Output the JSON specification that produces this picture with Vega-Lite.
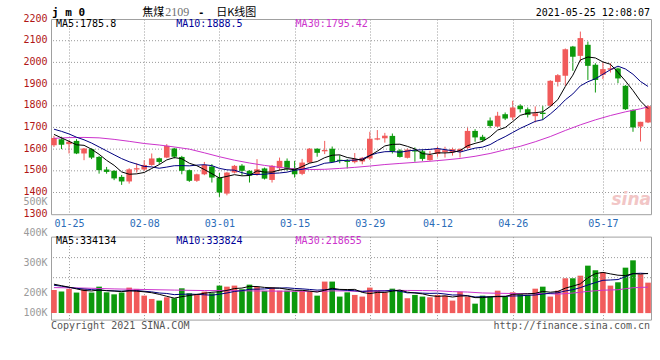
{
"$schema": "https://vega.github.io/schema/vega-lite/v6.json",
"background": "white",
"padding": {"left": 22, "top": 5, "right": 8, "bottom": 4},
"config": {
  "font": "DejaVu Sans Mono",
  "view": {"stroke": "#a0a0a0", "strokeWidth": 1},
  "axis": {"domain": false, "ticks": false, "labelFont": "DejaVu Sans Mono", "labelFontSize": 10, "gridDash": [1, 2], "gridWidth": 1, "labelOverlap": false, "labelFlush": false, "labelBound": false},
  "text": {"font": "DejaVu Sans Mono", "fontSize": 10}
},
"datasets": {
"k": [
{"d":"01-21","o":1618,"h":1661,"l":1610,"c":1651,"v":196,"m5":1668,"m10":1692,"vm5":245,"vm10":236},
{"d":"01-22","o":1646,"h":1657,"l":1600,"c":1620,"v":182,"m5":1652,"m10":1682,"vm5":232,"vm10":228},
{"d":"01-25","o":1623,"h":1641,"l":1580,"c":1634,"v":205,"m5":1636,"m10":1670,"vm5":220,"vm10":218},
{"d":"01-26","o":1638,"h":1646,"l":1577,"c":1580,"v":174,"m5":1620,"m10":1655,"vm5":205,"vm10":210},
{"d":"01-27","o":1580,"h":1605,"l":1549,"c":1603,"v":202,"m5":1617.6,"m10":1643,"vm5":191.8,"vm10":204},
{"d":"01-28","o":1600,"h":1604,"l":1554,"c":1561,"v":174,"m5":1599.6,"m10":1628,"vm5":187.4,"vm10":199},
{"d":"01-29","o":1564,"h":1569,"l":1487,"c":1503,"v":224,"m5":1576.2,"m10":1610,"vm5":195.8,"vm10":195},
{"d":"02-01","o":1506,"h":1518,"l":1487,"c":1495,"v":176,"m5":1548.4,"m10":1592,"vm5":190,"vm10":191},
{"d":"02-02","o":1500,"h":1503,"l":1457,"c":1465,"v":159,"m5":1525.4,"m10":1574,"vm5":187,"vm10":188},
{"d":"02-03","o":1472,"h":1481,"l":1435,"c":1451,"v":174,"m5":1495,"m10":1556.3,"vm5":181.4,"vm10":186.6},
{"d":"02-04","o":1451,"h":1512,"l":1441,"c":1507,"v":216,"m5":1484.2,"m10":1541.9,"vm5":189.8,"vm10":188.6},
{"d":"02-05","o":1506,"h":1535,"l":1492,"c":1512,"v":205,"m5":1486,"m10":1531.1,"vm5":186,"vm10":190.9},
{"d":"02-08","o":1506,"h":1549,"l":1500,"c":1527,"v":148,"m5":1492.4,"m10":1520.4,"vm5":180.4,"vm10":185.2},
{"d":"02-09","o":1527,"h":1580,"l":1523,"c":1557,"v":120,"m5":1510.8,"m10":1518.1,"vm5":172.6,"vm10":179.8},
{"d":"02-10","o":1558,"h":1561,"l":1531,"c":1541,"v":106,"m5":1528.8,"m10":1511.9,"vm5":159,"vm10":170.2},
{"d":"02-18","o":1561,"h":1623,"l":1558,"c":1615,"v":134,"m5":1550.4,"m10":1517.3,"vm5":142.6,"vm10":166.2},
{"d":"02-19","o":1603,"h":1606,"l":1557,"c":1565,"v":126,"m5":1561,"m10":1523.5,"vm5":126.8,"vm10":156.4},
{"d":"02-22","o":1564,"h":1569,"l":1484,"c":1500,"v":210,"m5":1555.6,"m10":1524,"vm5":139.2,"vm10":159.8},
{"d":"02-23","o":1503,"h":1506,"l":1449,"c":1454,"v":168,"m5":1535,"m10":1522.9,"vm5":148.8,"vm10":160.7},
{"d":"02-24","o":1454,"h":1487,"l":1449,"c":1484,"v":154,"m5":1523.6,"m10":1526.2,"vm5":158.4,"vm10":158.7},
{"d":"02-25","o":1484,"h":1541,"l":1480,"c":1527,"v":182,"m5":1506,"m10":1528.2,"vm5":168,"vm10":155.3},
{"d":"02-26","o":1520,"h":1531,"l":1446,"c":1469,"v":168,"m5":1486.8,"m10":1523.9,"vm5":176.4,"vm10":151.6},
{"d":"03-01","o":1469,"h":1490,"l":1380,"c":1400,"v":233,"m5":1466.8,"m10":1511.2,"vm5":181,"vm10":160.1},
{"d":"03-02","o":1395,"h":1495,"l":1387,"c":1492,"v":224,"m5":1474.4,"m10":1504.7,"vm5":192.2,"vm10":170.5},
{"d":"03-03","o":1492,"h":1527,"l":1488,"c":1523,"v":233,"m5":1482.2,"m10":1502.9,"vm5":208,"vm10":183.2},
{"d":"03-04","o":1524,"h":1531,"l":1480,"c":1500,"v":202,"m5":1476.8,"m10":1491.4,"vm5":212,"vm10":190},
{"d":"03-05","o":1500,"h":1503,"l":1446,"c":1477,"v":241,"m5":1478.4,"m10":1482.6,"vm5":226.6,"vm10":201.5},
{"d":"03-08","o":1484,"h":1554,"l":1477,"c":1507,"v":224,"m5":1499.8,"m10":1483.3,"vm5":224.8,"vm10":202.9},
{"d":"03-09","o":1511,"h":1515,"l":1460,"c":1464,"v":188,"m5":1494.2,"m10":1484.3,"vm5":217.6,"vm10":204.9},
{"d":"03-10","o":1458,"h":1527,"l":1446,"c":1523,"v":216,"m5":1494.2,"m10":1488.2,"vm5":214.2,"vm10":211.1},
{"d":"03-11","o":1512,"h":1561,"l":1500,"c":1546,"v":190,"m5":1503.4,"m10":1490.1,"vm5":211.8,"vm10":211.9},
{"d":"03-12","o":1546,"h":1557,"l":1500,"c":1507,"v":190,"m5":1509.4,"m10":1493.9,"vm5":201.6,"vm10":214.1},
{"d":"03-15","o":1513,"h":1546,"l":1469,"c":1484,"v":182,"m5":1504.8,"m10":1502.3,"vm5":193.2,"vm10":209},
{"d":"03-16","o":1486,"h":1555,"l":1480,"c":1538,"v":188,"m5":1519.6,"m10":1506.9,"vm5":193.2,"vm10":205.4},
{"d":"03-17","o":1538,"h":1605,"l":1535,"c":1602,"v":182,"m5":1535.4,"m10":1514.8,"vm5":186.4,"vm10":200.3},
{"d":"03-18","o":1602,"h":1604,"l":1565,"c":1583,"v":148,"m5":1542.8,"m10":1523.1,"vm5":178,"vm10":194.9},
{"d":"03-19","o":1590,"h":1638,"l":1577,"c":1596,"v":267,"m5":1560.6,"m10":1535,"vm5":193.4,"vm10":197.5},
{"d":"03-22","o":1602,"h":1612,"l":1538,"c":1541,"v":267,"m5":1572,"m10":1538.4,"vm5":210.4,"vm10":201.8},
{"d":"03-23","o":1551,"h":1572,"l":1535,"c":1546,"v":140,"m5":1573.6,"m10":1546.6,"vm5":200.8,"vm10":197},
{"d":"03-24","o":1546,"h":1554,"l":1511,"c":1541,"v":176,"m5":1561.4,"m10":1548.4,"vm5":199.6,"vm10":193},
{"d":"03-25","o":1540,"h":1582,"l":1534,"c":1554,"v":154,"m5":1555.6,"m10":1549.2,"vm5":200.8,"vm10":189.4},
{"d":"03-26","o":1543,"h":1564,"l":1530,"c":1560,"v":140,"m5":1548.4,"m10":1554.5,"vm5":175.4,"vm10":184.4},
{"d":"03-29","o":1557,"h":1680,"l":1550,"c":1648,"v":216,"m5":1569.8,"m10":1570.9,"vm5":165.2,"vm10":187.8},
{"d":"03-30","o":1644,"h":1688,"l":1641,"c":1650,"v":190,"m5":1590.6,"m10":1582.1,"vm5":175.2,"vm10":188},
{"d":"03-31","o":1650,"h":1675,"l":1630,"c":1662,"v":176,"m5":1614.8,"m10":1588.1,"vm5":175.2,"vm10":187.4},
{"d":"04-01","o":1661,"h":1672,"l":1580,"c":1590,"v":207,"m5":1622,"m10":1588.8,"vm5":185.8,"vm10":193.3},
{"d":"04-02","o":1594,"h":1600,"l":1561,"c":1564,"v":188,"m5":1622.8,"m10":1585.6,"vm5":195.4,"vm10":185.4},
{"d":"04-06","o":1560,"h":1604,"l":1557,"c":1598,"v":126,"m5":1612.8,"m10":1591.3,"vm5":177.4,"vm10":171.3},
{"d":"04-07","o":1595,"h":1608,"l":1542,"c":1589,"v":154,"m5":1600.6,"m10":1595.6,"vm5":170.2,"vm10":172.7},
{"d":"04-08","o":1590,"h":1600,"l":1546,"c":1555,"v":140,"m5":1579.2,"m10":1597,"vm5":163,"vm10":169.1},
{"d":"04-09","o":1549,"h":1592,"l":1546,"c":1573,"v":134,"m5":1575.8,"m10":1598.9,"vm5":148.4,"vm10":167.1},
{"d":"04-12","o":1578,"h":1611,"l":1565,"c":1600,"v":154,"m5":1583,"m10":1602.9,"vm5":141.6,"vm10":168.5},
{"d":"04-13","o":1586,"h":1611,"l":1561,"c":1595,"v":148,"m5":1582.4,"m10":1597.6,"vm5":146,"vm10":161.7},
{"d":"04-14","o":1586,"h":1607,"l":1570,"c":1600,"v":106,"m5":1584.6,"m10":1592.6,"vm5":136.4,"vm10":153.3},
{"d":"04-15","o":1590,"h":1604,"l":1561,"c":1600,"v":182,"m5":1593.6,"m10":1586.4,"vm5":144.8,"vm10":153.9},
{"d":"04-16","o":1605,"h":1703,"l":1600,"c":1684,"v":140,"m5":1615.8,"m10":1595.8,"vm5":146,"vm10":147.2},
{"d":"04-19","o":1684,"h":1692,"l":1634,"c":1654,"v":80,"m5":1626.6,"m10":1604.8,"vm5":131.2,"vm10":136.4},
{"d":"04-20","o":1657,"h":1666,"l":1634,"c":1641,"v":148,"m5":1635.8,"m10":1609.1,"vm5":131.2,"vm10":138.6},
{"d":"04-21","o":1732,"h":1746,"l":1697,"c":1707,"v":140,"m5":1657.2,"m10":1620.9,"vm5":138,"vm10":137.2},
{"d":"04-22","o":1704,"h":1772,"l":1700,"c":1754,"v":190,"m5":1688,"m10":1640.8,"vm5":139.6,"vm10":142.2},
{"d":"04-23","o":1761,"h":1769,"l":1734,"c":1741,"v":140,"m5":1699.4,"m10":1657.6,"vm5":139.6,"vm10":142.8},
{"d":"04-26","o":1746,"h":1823,"l":1734,"c":1792,"v":176,"m5":1727,"m10":1676.8,"vm5":158.8,"vm10":145},
{"d":"04-27","o":1800,"h":1807,"l":1769,"c":1784,"v":159,"m5":1755.6,"m10":1695.7,"vm5":161,"vm10":146.1},
{"d":"04-28","o":1784,"h":1792,"l":1746,"c":1758,"v":154,"m5":1765.8,"m10":1711.5,"vm5":163.8,"vm10":150.9},
{"d":"04-29","o":1752,"h":1797,"l":1723,"c":1765,"v":207,"m5":1768,"m10":1728,"vm5":167.2,"vm10":153.4},
{"d":"04-30","o":1768,"h":1800,"l":1735,"c":1762,"v":224,"m5":1772.2,"m10":1735.8,"vm5":184,"vm10":161.8},
{"d":"05-06","o":1800,"h":1918,"l":1796,"c":1915,"v":140,"m5":1796.8,"m10":1761.9,"vm5":176.8,"vm10":167.8},
{"d":"05-07","o":1910,"h":1946,"l":1889,"c":1941,"v":190,"m5":1828.2,"m10":1791.9,"vm5":183,"vm10":172},
{"d":"05-10","o":1938,"h":2064,"l":1892,"c":2061,"v":295,"m5":1888.8,"m10":1827.3,"vm5":211.2,"vm10":187.5},
{"d":"05-11","o":2073,"h":2076,"l":1961,"c":2026,"v":295,"m5":1941,"m10":1854.5,"vm5":228.8,"vm10":198},
{"d":"05-12","o":2030,"h":2142,"l":2003,"c":2112,"v":317,"m5":2011,"m10":1891.6,"vm5":247.4,"vm10":215.7},
{"d":"05-13","o":2081,"h":2096,"l":1919,"c":1984,"v":402,"m5":2024.8,"m10":1910.8,"vm5":299.8,"vm10":238.3},
{"d":"05-14","o":1989,"h":1996,"l":1861,"c":1919,"v":363,"m5":2020.4,"m10":1924.3,"vm5":334.4,"vm10":258.7},
{"d":"05-17","o":1943,"h":2002,"l":1923,"c":1969,"v":346,"m5":2002,"m10":1945.4,"vm5":344.6,"vm10":277.9},
{"d":"05-18","o":1966,"h":1996,"l":1953,"c":1973,"v":233,"m5":1991.2,"m10":1966.1,"vm5":332.2,"vm10":280.5},
{"d":"05-19","o":1972,"h":1976,"l":1904,"c":1926,"v":261,"m5":1954,"m10":1982.5,"vm5":321,"vm10":284.2},
{"d":"05-20","o":1892,"h":1895,"l":1781,"c":1784,"v":385,"m5":1914,"m10":1969.4,"vm5":317.6,"vm10":308.7},
{"d":"05-21","o":1781,"h":1784,"l":1680,"c":1700,"v":447,"m5":1870.2,"m10":1945.3,"vm5":334.4,"vm10":334.4},
{"d":"05-24","o":1704,"h":1726,"l":1635,"c":1726,"v":329,"m5":1821.6,"m10":1911.8,"vm5":331,"vm10":337.8},
{"d":"05-25","o":1723,"h":1803,"l":1720,"c":1798,"v":258,"m5":1786.8,"m10":1889,"vm5":336,"vm10":334.1}
],
"p30": [
{"d":"01-21","p":1650},{"d":"01-25","p":1653},{"d":"01-27","p":1654},{"d":"01-29","p":1652},{"d":"02-02","p":1645},{"d":"02-04","p":1636},{"d":"02-08","p":1626},{"d":"02-10","p":1619},{"d":"02-19","p":1610},{"d":"02-23","p":1600},{"d":"02-25","p":1583},{"d":"03-01","p":1565},{"d":"03-03","p":1549},{"d":"03-05","p":1536},{"d":"03-09","p":1525},{"d":"03-11","p":1516},{"d":"03-15","p":1509},{"d":"03-17","p":1506},{"d":"03-19","p":1507},{"d":"03-23","p":1511},{"d":"03-25","p":1516},{"d":"03-29","p":1522},{"d":"03-31","p":1529},{"d":"04-02","p":1534},{"d":"04-07","p":1539},{"d":"04-09","p":1544},{"d":"04-13","p":1550},{"d":"04-15","p":1557},{"d":"04-19","p":1567},{"d":"04-21","p":1580},{"d":"04-23","p":1597},{"d":"04-27","p":1613},{"d":"04-29","p":1634},{"d":"05-06","p":1658},{"d":"05-10","p":1686},{"d":"05-12","p":1712},{"d":"05-14","p":1735},{"d":"05-18","p":1755},{"d":"05-20","p":1772},{"d":"05-24","p":1786},{"d":"05-25","p":1795}
],
"v30": [
{"d":"01-21","p":216},{"d":"01-27","p":212},{"d":"02-02","p":205},{"d":"02-08","p":200},{"d":"02-19","p":195},{"d":"02-25","p":191},{"d":"03-03","p":190},{"d":"03-09","p":187},{"d":"03-12","p":185.5},{"d":"03-16","p":185.2},{"d":"03-18","p":183.7},{"d":"03-22","p":188.2},{"d":"03-24","p":187.6},{"d":"03-26","p":183.4},{"d":"03-30","p":188},{"d":"04-01","p":192.7},{"d":"04-06","p":192},{"d":"04-08","p":191.1},{"d":"04-12","p":189},{"d":"04-14","p":182.2},{"d":"04-16","p":178.5},{"d":"04-20","p":170.6},{"d":"04-22","p":168.1},{"d":"04-26","p":166},{"d":"04-28","p":164.1},{"d":"04-30","p":167.4},{"d":"05-07","p":160.6},{"d":"05-11","p":169.8},{"d":"05-13","p":183.9},{"d":"05-17","p":194},{"d":"05-19","p":197.7},{"d":"05-21","p":215},{"d":"05-25","p":220}
],
"gp": [{"g":1400},{"g":1500},{"g":1600},{"g":1700},{"g":1800},{"g":1900},{"g":2000},{"g":2100}],
"gv": [{"g":300},{"g":470}]
},
"spacing": 21.6,
"bounds": "flush",
"vconcat": [
{
 "width": 600, "height": 195.2,
 "layer": [
  {"data": {"name": "k"}, "mark": {"type": "rule", "strokeWidth": 1},
   "encoding": {
    "x": {"field": "d", "type": "ordinal", "scale": {"type": "point", "padding": 0.394},
          "axis": {"values": ["01-25","02-08","03-01","03-15","03-29","04-12","04-26","05-17"], "grid": true, "gridColor": "#9a9a9a", "gridDash": [1, 2], "labelColor": "#2a6cb8", "labelPadding": 4, "labelAngle": 0, "labelOverlap": false, "labelBound": false, "labelFlush": false, "title": null}},
    "y": {"field": "l", "type": "quantitative", "scale": {"domain": [1300, 2200], "nice": false, "zero": false},
          "axis": {"values": [1300,1355,1400,1500,1600,1700,1800,1900,2000,2100,2200], "tickCount": 100, "format": "d", "grid": false,
                   "labelExpr": "datum.value == 1355 ? '500K' : datum.label",
                   "labelColor": {"condition": {"test": "datum.value == 1355", "value": "#9a9a9a"}, "value": "#b01515"},
                   "labelOverlap": false, "labelBound": false, "labelFlush": false,
                   "labelPadding": 4, "labelOffset": -1, "title": null}},
    "y2": {"field": "h"},
    "color": {"condition": {"test": "datum.c >= datum.o", "value": "#f15b5b"}, "value": "#0c990c"}
   }},
  {"data": {"name": "gp"}, "mark": {"type": "rule", "color": "#9a9a9a", "strokeWidth": 1, "strokeDash": [1, 2]},
   "encoding": {"y": {"field": "g", "type": "quantitative"}}},
  {"data": {"name": "k"}, "mark": {"type": "bar", "width": 5.6},
   "encoding": {
    "x": {"field": "d", "type": "ordinal"},
    "y": {"field": "o", "type": "quantitative"},
    "y2": {"field": "c"},
    "color": {"condition": {"test": "datum.c >= datum.o", "value": "#f15b5b"}, "value": "#0c990c"}
   }},
  {"data": {"name": "p30"}, "mark": {"type": "line", "color": "#cc33cc", "strokeWidth": 1},
   "encoding": {"x": {"field": "d", "type": "ordinal"}, "y": {"field": "p", "type": "quantitative"}}},
  {"data": {"name": "k"}, "mark": {"type": "line", "color": "#000080", "strokeWidth": 1},
   "encoding": {"x": {"field": "d", "type": "ordinal"}, "y": {"field": "m10", "type": "quantitative"}}},
  {"data": {"name": "k"}, "mark": {"type": "line", "color": "#000000", "strokeWidth": 1},
   "encoding": {"x": {"field": "d", "type": "ordinal"}, "y": {"field": "m5", "type": "quantitative"}}},
  {"data": {"values": [{"t": "MA5:1785.8"}]}, "mark": {"type": "text", "align": "left", "baseline": "middle", "dx": 2, "color": "#000000", "fontSize": 10},
   "encoding": {"x": {"datum": "01-21", "type": "ordinal"}, "y": {"datum": 2175, "type": "quantitative"}, "text": {"field": "t"}}},
  {"data": {"values": [{"t": "MA10:1888.5"}]}, "mark": {"type": "text", "align": "left", "baseline": "middle", "dx": 2, "color": "#000099", "fontSize": 10},
   "encoding": {"x": {"datum": "02-19", "type": "ordinal"}, "y": {"datum": 2175, "type": "quantitative"}, "text": {"field": "t"}}},
  {"data": {"values": [{"t": "MA30:1795.42"}]}, "mark": {"type": "text", "align": "left", "baseline": "middle", "dx": 1, "color": "#cc33cc", "fontSize": 10},
   "encoding": {"x": {"datum": "03-15", "type": "ordinal"}, "y": {"datum": 2175, "type": "quantitative"}, "text": {"field": "t"}}},
  {"data": {"values": [{"t": "j m 0"}]}, "mark": {"type": "text", "align": "left", "baseline": "alphabetic", "dx": -2, "color": "#000000", "fontSize": 11, "fontWeight": "bold"},
   "encoding": {"x": {"datum": "01-21", "type": "ordinal"}, "y": {"datum": 2215, "type": "quantitative"}, "text": {"field": "t"}}},
  {"data": {"values": [{"t": "焦煤"}]}, "mark": {"type": "text", "align": "left", "baseline": "alphabetic", "dx": -2, "color": "#000000", "fontSize": 11, "font": "Noto Sans CJK SC"},
   "encoding": {"x": {"datum": "02-08", "type": "ordinal"}, "y": {"datum": 2215, "type": "quantitative"}, "text": {"field": "t"}}},
  {"data": {"values": [{"t": "2109"}]}, "mark": {"type": "text", "align": "left", "baseline": "alphabetic", "dx": 21, "color": "#707070", "fontSize": 12, "font": "Liberation Serif"},
   "encoding": {"x": {"datum": "02-08", "type": "ordinal"}, "y": {"datum": 2215, "type": "quantitative"}, "text": {"field": "t"}}},
  {"data": {"values": [{"t": "-"}]}, "mark": {"type": "text", "align": "left", "baseline": "alphabetic", "dx": 54, "color": "#000000", "fontSize": 10, "fontWeight": "bold"},
   "encoding": {"x": {"datum": "02-08", "type": "ordinal"}, "y": {"datum": 2215, "type": "quantitative"}, "text": {"field": "t"}}},
  {"data": {"values": [{"t": "日K线图"}]}, "mark": {"type": "text", "align": "left", "baseline": "alphabetic", "dx": 72, "color": "#000000", "fontSize": 11, "font": "Noto Sans CJK SC"},
   "encoding": {"x": {"datum": "02-08", "type": "ordinal"}, "y": {"datum": 2215, "type": "quantitative"}, "text": {"field": "t"}}},
  {"data": {"values": [{"t": "2021-05-25 12:08:07"}]}, "mark": {"type": "text", "align": "right", "baseline": "alphabetic", "dx": 2, "color": "#000000", "fontSize": 10},
   "encoding": {"x": {"datum": "05-25", "type": "ordinal"}, "y": {"datum": 2215, "type": "quantitative"}, "text": {"field": "t"}}},
  {"data": {"values": [{"t": "sina"}]}, "mark": {"type": "text", "align": "right", "baseline": "alphabetic", "dx": 3, "color": "#f2c6c6", "fontSize": 17, "fontWeight": "bold", "fontStyle": "italic", "font": "DejaVu Sans"},
   "encoding": {"x": {"datum": "05-25", "type": "ordinal"}, "y": {"datum": 1343, "type": "quantitative"}, "text": {"field": "t"}}}
 ]
},
{
 "width": 600, "height": 83,
 "layer": [
  {"data": {"name": "k"}, "mark": {"type": "bar", "width": 5.6},
   "encoding": {
    "x": {"field": "d", "type": "ordinal", "scale": {"type": "point", "padding": 0.394},
          "axis": {"values": ["01-25","02-08","03-01","03-15","03-29","04-12","04-26","05-17"], "grid": true, "gridColor": "#9a9a9a", "gridDash": [1, 2], "labels": false, "title": null}},
    "y": {"field": "v", "type": "quantitative", "scale": {"domain": [-55, 648], "nice": false, "zero": false},
          "axis": {"values": [-30, 140, 394, 648], "tickCount": 100, "grid": false,
                   "labelExpr": "datum.value == 648 ? '400K' : datum.value == 394 ? '300K' : datum.value == 140 ? '200K' : datum.value == -30 ? '100K' : ''",
                   "labelColor": "#9a9a9a", "labelOffset": -4, "labelPadding": 4,
                   "labelOverlap": false, "labelBound": false, "labelFlush": false,
                   "title": null}},
    "y2": {"datum": 0},
    "color": {"condition": {"test": "datum.c >= datum.o", "value": "#f15b5b"}, "value": "#0c990c"}
   }},
  {"data": {"name": "gv"}, "mark": {"type": "rule", "color": "#9a9a9a", "strokeWidth": 1, "strokeDash": [1, 2]},
   "encoding": {"y": {"field": "g", "type": "quantitative"}}},
  {"data": {"name": "v30"}, "mark": {"type": "line", "color": "#cc33cc", "strokeWidth": 1},
   "encoding": {"x": {"field": "d", "type": "ordinal"}, "y": {"field": "p", "type": "quantitative"}}},
  {"data": {"name": "k"}, "mark": {"type": "line", "color": "#000080", "strokeWidth": 1},
   "encoding": {"x": {"field": "d", "type": "ordinal"}, "y": {"field": "vm10", "type": "quantitative"}}},
  {"data": {"name": "k"}, "mark": {"type": "line", "color": "#000000", "strokeWidth": 1},
   "encoding": {"x": {"field": "d", "type": "ordinal"}, "y": {"field": "vm5", "type": "quantitative"}}},
  {"data": {"values": [{"t": "MA5:334134"}]}, "mark": {"type": "text", "align": "left", "baseline": "middle", "dx": 2, "color": "#000000", "fontSize": 10},
   "encoding": {"x": {"datum": "01-21", "type": "ordinal"}, "y": {"datum": 614, "type": "quantitative"}, "text": {"field": "t"}}},
  {"data": {"values": [{"t": "MA10:333824"}]}, "mark": {"type": "text", "align": "left", "baseline": "middle", "dx": 2, "color": "#000099", "fontSize": 10},
   "encoding": {"x": {"datum": "02-19", "type": "ordinal"}, "y": {"datum": 614, "type": "quantitative"}, "text": {"field": "t"}}},
  {"data": {"values": [{"t": "MA30:218655"}]}, "mark": {"type": "text", "align": "left", "baseline": "middle", "dx": 1, "color": "#cc33cc", "fontSize": 10},
   "encoding": {"x": {"datum": "03-15", "type": "ordinal"}, "y": {"datum": 614, "type": "quantitative"}, "text": {"field": "t"}}},
  {"data": {"values": [{"t": "Copyright 2021 SINA.COM"}]}, "mark": {"type": "text", "align": "left", "baseline": "middle", "dx": -3, "color": "#555555", "fontSize": 10},
   "encoding": {"x": {"datum": "01-21", "type": "ordinal"}, "y": {"datum": -106, "type": "quantitative"}, "text": {"field": "t"}}},
  {"data": {"values": [{"t": "http://finance.sina.com.cn"}]}, "mark": {"type": "text", "align": "right", "baseline": "middle", "dx": 2, "color": "#555555", "fontSize": 10},
   "encoding": {"x": {"datum": "05-25", "type": "ordinal"}, "y": {"datum": -106, "type": "quantitative"}, "text": {"field": "t"}}}
 ]
}
]
}
